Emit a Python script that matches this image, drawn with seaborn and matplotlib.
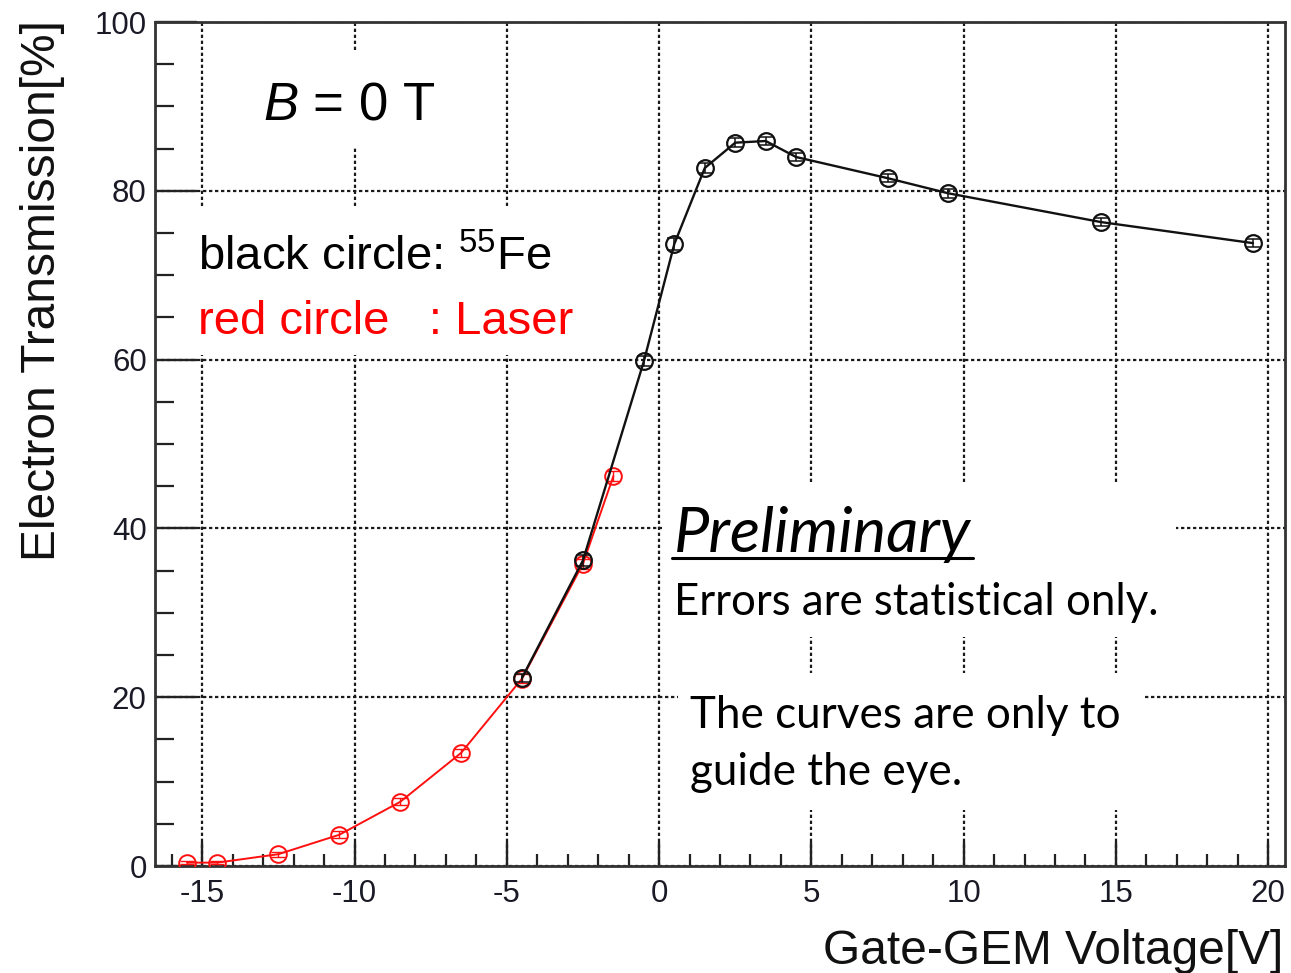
import matplotlib
matplotlib.use("Agg")
import matplotlib.pyplot as plt
import seaborn as sns
import pandas as pd
from matplotlib.patches import Rectangle
from matplotlib.lines import Line2D
from matplotlib.ticker import MultipleLocator

# ---------------- data ----------------
fe_voltage = [-4.5, -2.5, -0.5, 0.5, 1.5, 2.5, 3.5, 4.5, 7.5, 9.5, 14.5, 19.5]
fe_transmission = [22.3, 36.2, 59.8, 73.7, 82.7, 85.7, 85.9, 84.0, 81.5, 79.7, 76.3, 73.8]
fe_error = [0.5, 0.6, 0.6, 0.7, 0.6, 0.5, 0.5, 0.5, 0.5, 0.5, 0.5, 0.5]

laser_voltage = [-15.5, -14.5, -12.5, -10.5, -8.5, -6.5, -4.5, -2.5, -1.5]
laser_transmission = [0.4, 0.4, 1.4, 3.7, 7.6, 13.4, 22.2, 35.8, 46.2]
laser_error = [0.2, 0.2, 0.3, 0.4, 0.4, 0.5, 0.5, 0.6, 0.6]

x_ticks = [-15, -10, -5, 0, 5, 10, 15, 20]
y_ticks = [0, 20, 40, 60, 80, 100]

x_label = "Gate-GEM Voltage[V]"
y_label = "Electron Transmission[%]"

# ---------------- style ----------------
sns.set_theme(style="white")
plt.rcParams["font.family"] = ["Liberation Sans", "DejaVu Sans"]
plt.rcParams["mathtext.fontset"] = "custom"
plt.rcParams["mathtext.rm"] = "Liberation Sans"
plt.rcParams["mathtext.it"] = "Liberation Sans:italic"

W, H = 1291, 973
fig = plt.figure(figsize=(W / 100, H / 100), dpi=100)
fig.patch.set_facecolor("white")

AX_L, AX_R, AX_T, AX_B = 155, 1285, 22, 866
ax = fig.add_axes([AX_L / W, 1 - AX_B / H, (AX_R - AX_L) / W, (AX_B - AX_T) / H])
ax.set_facecolor("white")


def ax_xy(px, py):
    """pixel position in the picture -> axes fraction"""
    return (px - AX_L) / (AX_R - AX_L), (AX_B - py) / (AX_B - AX_T)


laser_df = pd.DataFrame({"v": laser_voltage, "t": laser_transmission})
fe_df = pd.DataFrame({"v": fe_voltage, "t": fe_transmission})

# red (laser)
sns.lineplot(data=laser_df, x="v", y="t", ax=ax, color="#ff1010", linewidth=1.4,
             marker="o", markersize=12, markerfacecolor="none",
             markeredgecolor="#ff1010", markeredgewidth=1.4, sort=False, zorder=3)
ax.errorbar(laser_voltage, laser_transmission, yerr=laser_error, fmt="none",
            ecolor="#ff1010", elinewidth=1.0, capsize=5, capthick=1.0, zorder=3)

# black (55Fe)
sns.lineplot(data=fe_df, x="v", y="t", ax=ax, color="#111111", linewidth=1.7,
             marker="o", markersize=12, markerfacecolor="none",
             markeredgecolor="#111111", markeredgewidth=1.6, sort=False, zorder=4)
ax.errorbar(fe_voltage, fe_transmission, yerr=fe_error, fmt="none",
            ecolor="#111111", elinewidth=1.1, capsize=5, capthick=1.1, zorder=4)

# ---------------- axes ----------------
ax.set_xlim(-16.55, 20.55)
ax.set_ylim(0, 100)
ax.set_xticks(x_ticks)
ax.set_yticks(y_ticks)
ax.xaxis.set_minor_locator(MultipleLocator(1))
ax.yaxis.set_minor_locator(MultipleLocator(5))
ax.set_xticklabels([str(v) for v in x_ticks])
ax.set_yticklabels([str(v) for v in y_ticks])

tick_color = "#1a1a26"
ax.tick_params(axis="both", which="both", direction="in", colors="#222222",
               labelcolor=tick_color, labelsize=22.5, top=False, right=False,
               bottom=True, left=True)
ax.tick_params(axis="y", which="major", length=30, width=1.7, pad=6)
ax.tick_params(axis="y", which="minor", length=14, width=1.6)
ax.tick_params(axis="x", which="major", length=17, width=1.7, pad=9)
ax.tick_params(axis="x", which="minor", length=8.5, width=1.6)

for s in ax.spines.values():
    s.set_color("#333333")
    s.set_linewidth(2.0)

ax.set_axisbelow(True)
ax.grid(True, which="major", color="#1a1a1a", linestyle=(0, (1.5, 1.2)),
        linewidth=1.6)
ax.grid(False, which="minor")

ax.set_xlabel(x_label, fontsize=34.5, color="#111111", loc="right")
ax.set_ylabel(y_label, fontsize=34.5, color="#111111", loc="top")
ax.xaxis.label.set_va("baseline")
ax.yaxis.label.set_va("baseline")
ax.xaxis.set_label_coords(*ax_xy(1283, 964))
ax.yaxis.set_label_coords(*ax_xy(55, 20))

# ---------------- white boxes covering the grid ----------------
boxes = [
    (215, 50, 495, 147),     # B = 0 T
    (185, 208, 600, 355),    # legend text
    (662, 482, 1176, 637),   # Preliminary / errors
    (678, 673, 1144, 810),   # curves guide the eye
]
for (x0, y0, x1, y1) in boxes:
    ax0, ay1 = ax_xy(x0, y0)
    ax1, ay0 = ax_xy(x1, y1)
    ax.add_patch(Rectangle((ax0, ay0), ax1 - ax0, ay1 - ay0, transform=ax.transAxes,
                           facecolor="white", edgecolor="none", zorder=1.5))

# ---------------- annotation texts ----------------
txt_kw = dict(transform=ax.transAxes, ha="left", va="baseline", zorder=6)
ax.text(*ax_xy(263, 119), r"$B$ = 0 T", fontsize=38, color="black", **txt_kw)
ax.text(*ax_xy(198, 270), r"black circle: $^{55}$Fe", fontsize=34, color="black", **txt_kw)
ax.text(*ax_xy(198, 334), "red circle   : Laser", fontsize=34, color="#ff0000", **txt_kw)

cal = ["Lato", "Open Sans", "DejaVu Sans"]
t_pre = ax.text(*ax_xy(674, 552), "Preliminary", fontsize=40, style="italic",
                family=cal, color="black", **txt_kw)
t_err = ax.text(*ax_xy(674, 615), "Errors are statistical only.", fontsize=30,
                family=cal, color="black", **txt_kw)
t_c1 = ax.text(*ax_xy(690, 728), "The curves are only to", fontsize=30,
               family=cal, color="black", **txt_kw)
t_c2 = ax.text(*ax_xy(690, 785), "guide the eye.", fontsize=30,
               family=cal, color="black", **txt_kw)


def fit_width(texts, target_px):
    fig.canvas.draw()
    r = fig.canvas.get_renderer()
    w = texts[0].get_window_extent(r).width
    f = texts[0].get_fontsize() * target_px / w
    for t in texts:
        t.set_fontsize(f)


fit_width([t_pre], 971 - 674)
fit_width([t_err], 1158 - 674)
fit_width([t_c1, t_c2], 1119 - 690)

# underline of "Preliminary"
fig.canvas.draw()
bb = t_pre.get_window_extent(fig.canvas.get_renderer())
uy = H - 558
fig.add_artist(Line2D([bb.x0 - 2, bb.x1 + 2], [uy, uy], transform=None,
                      color="black", linewidth=2.2, zorder=7))

fig.savefig("out.png", dpi=100, facecolor="white")
